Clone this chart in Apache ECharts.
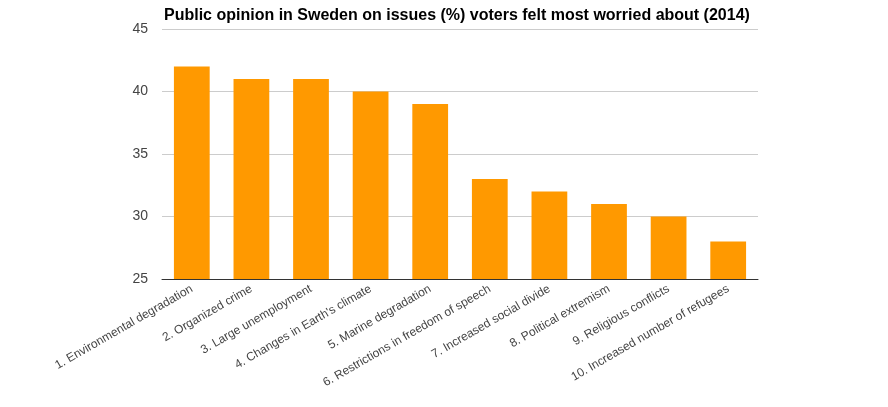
<!DOCTYPE html>
<html><head><meta charset="utf-8">
<script src="https://cdn.jsdelivr.net/npm/echarts@6/dist/echarts.min.js"></script>
<style>html,body{margin:0;padding:0;background:#fff}#c{width:888px;height:407px}</style>
</head><body><div id="c"></div>
<script>
const categories = ["1. Environmental degradation","2. Organized crime","3. Large unemployment","4. Changes in Earth's climate","5. Marine degradation","6. Restrictions in freedom of speech","7. Increased social divide","8. Political extremism","9. Religious conflicts","10. Increased number of refugees"];
const values = [42, 41, 41, 40, 39, 33, 32, 31, 30, 28];
const chart = echarts.init(document.getElementById('c'), null, {renderer:'canvas'});
chart.setOption({
  animation:false,
  title:{text:'Public opinion in Sweden on issues (%) voters felt most worried about (2014)',left:159,top:3,
    textStyle:{fontFamily:'Liberation Sans, Arial',fontSize:16,fontWeight:'bold',color:'#000'}},
  grid:{left:162,right:130,top:29,bottom:128,containLabel:false},
  xAxis:{type:'category',data:categories,
    axisLine:{lineStyle:{color:'#333',width:1}},axisTick:{show:false},
    axisLabel:{rotate:30,interval:0,margin:9,fontFamily:'Liberation Sans, Arial',fontSize:12,color:'#444'}},
  yAxis:{type:'value',min:25,max:45,interval:5,
    axisLine:{show:false},axisTick:{show:false},
    splitLine:{lineStyle:{color:'#ccc'}},
    axisLabel:{margin:14,fontFamily:'Liberation Sans, Arial',fontSize:14,color:'#444'}},
  series:[{type:'bar',data:values,barWidth:'60%',itemStyle:{color:'#ff9900'}}]
});
</script></body></html>
